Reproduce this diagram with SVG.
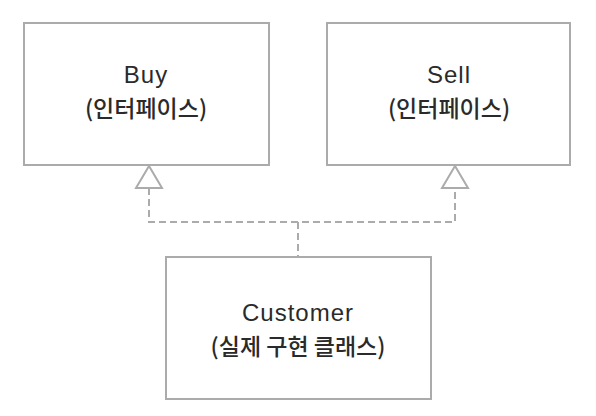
<svg xmlns="http://www.w3.org/2000/svg" width="596" height="416" viewBox="0 0 596 416">
<style>
.box{fill:#fff;stroke:#ababab;stroke-width:2}
.t{font-family:"Liberation Sans","Noto Sans CJK KR",sans-serif;font-size:24px;fill:#2a2a2a;text-anchor:middle}
.en{letter-spacing:1px}
.ko{font-family:"Noto Sans CJK KR",sans-serif;font-size:23px;font-weight:500}
.dash{fill:none;stroke:#ababab;stroke-width:2;stroke-dasharray:7,4}
.tri{fill:#fff;stroke:#ababab;stroke-width:2}
</style>
<rect width="596" height="416" fill="#fff"/>
<g id="connectors">
<path class="dash" d="M149,188 V222 H455 V188"/>
<path class="dash" d="M298,222 V257"/>
<polygon class="tri" points="149,166 136,188 162,188"/>
<polygon class="tri" points="455,166 442,188 468,188"/>
</g>
<g id="buy">
<rect class="box" x="24" y="23" width="245" height="142"/>
<text class="t en" x="146" y="83">Buy</text>
<text class="t ko" x="146" y="117">(인터페이스)</text>
</g>
<g id="sell">
<rect class="box" x="327" y="23" width="243" height="142"/>
<text class="t en" x="449" y="83">Sell</text>
<text class="t ko" x="449" y="117">(인터페이스)</text>
</g>
<g id="customer">
<rect class="box" x="166" y="257" width="265" height="142"/>
<text class="t en" x="298" y="321">Customer</text>
<text class="t ko" x="298" y="355">(실제 구현 클래스)</text>
</g>
</svg>
